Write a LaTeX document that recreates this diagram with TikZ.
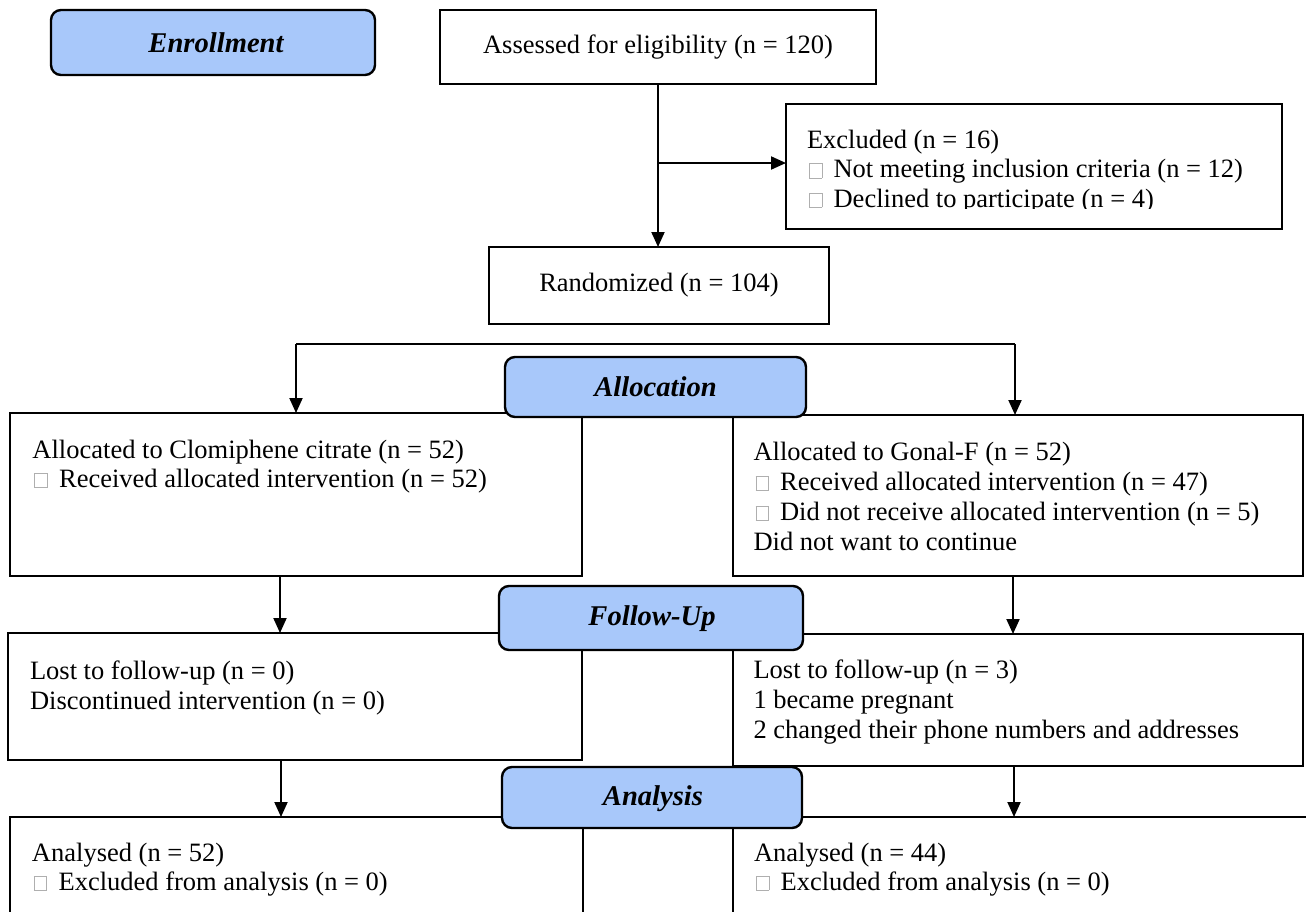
\documentclass[tikz,border=0pt]{standalone}
\usepackage{fontspec}
\setmainfont{Liberation Serif}
\usetikzlibrary{arrows.meta,fit}
\definecolor{headblue}{RGB}{168,200,250}
\definecolor{cbgray}{RGB}{175,175,175}
\newcommand\cbx{\hspace*{1pt}{\color{cbgray}\fboxsep=0pt\fboxrule=0.45pt\fbox{\rule{0pt}{6.8pt}\hspace{5.8pt}}}\hspace{5.6pt}}
\newcommand\txtline[4]{\node[tline] (#1) at (#2,#3) {#4};}
\tikzset{
  plainbox/.style={draw=black, line width=1pt, inner sep=0pt, outer sep=0pt, fill=white},
  headbox/.style={draw=black, line width=1.2pt, fill=headblue, rounded corners=5pt,
    inner sep=0pt, outer sep=0pt},
  headtext/.style={inner sep=0pt, outer sep=0pt, font=\fontsize{14.3}{16}\selectfont\bfseries\itshape},
  boxtext/.style={inner sep=0pt, outer sep=0pt, font=\fontsize{13.25}{15}\selectfont},
  tline/.style={anchor=base west, inner sep=0pt, outer sep=0pt, font=\fontsize{13.25}{15}\selectfont},
  arr/.style={line width=1pt, -{Triangle[length=7.5pt,width=6.5pt]}},
  conn/.style={line width=1pt}
}
\begin{document}
\begin{tikzpicture}[x=0.5pt,y=-0.5pt]
\useasboundingbox (0,0) rectangle (1306,911);
\clip (0,0) rectangle (1306,911);
% plain boxes
\node[plainbox, fit={(440,10) (876,84)}] (assess) {};
\node[boxtext] (assessT) at (assess.center) {Assessed for eligibility (n = 120)};
\node[plainbox, fit={(786,104) (1282,229)}] (excl) {};
\node[plainbox, fit={(489,247) (829,324)}] (rand) {};
\node[boxtext] (randT) at (rand.center) {Randomized (n = 104)};
\node[plainbox, fit={(10,413) (582,576)}] (allocL) {};
\node[plainbox, fit={(733,415) (1303,576)}] (allocR) {};
\node[plainbox, fit={(8,633) (582,760)}] (fuL) {};
\node[plainbox, fit={(733,634) (1303,766)}] (fuR) {};
\node[plainbox, fit={(10,817) (583,940)}] (anL) {};
\node[plainbox, fit={(733,817) (1310,940)}] (anR) {};
% texts
\begin{scope}
\clip (786,104) rectangle (1282,208);
\txtline{ex1}{807}{148}{Excluded (n = 16)}
\txtline{ex2}{807}{177.5}{\cbx Not meeting inclusion criteria (n = 12)}
\txtline{ex3}{807}{207}{\cbx Declined to participate (n = 4)}
\end{scope}
\txtline{al1}{32.5}{458}{Allocated to Clomiphene citrate (n = 52)}
\txtline{al2}{32.5}{487}{\cbx Received allocated intervention (n = 52)}
\txtline{ar1}{753.5}{460}{Allocated to Gonal-F (n = 52)}
\txtline{ar2}{753.5}{490}{\cbx Received allocated intervention (n = 47)}
\txtline{ar3}{753.5}{520}{\cbx Did not receive allocated intervention (n = 5)}
\txtline{ar4}{753.5}{550}{Did not want to continue}
\txtline{fl1}{30}{679}{Lost to follow-up (n = 0)}
\txtline{fl2}{30}{709}{Discontinued intervention (n = 0)}
\txtline{fr1}{753.5}{678}{Lost to follow-up (n = 3)}
\txtline{fr2}{753.5}{708}{1 became pregnant}
\txtline{fr3}{753.5}{738}{2 changed their phone numbers and addresses}
\txtline{nl1}{32}{861}{Analysed (n = 52)}
\txtline{nl2}{32}{890}{\cbx Excluded from analysis (n = 0)}
\txtline{nr1}{754}{861}{Analysed (n = 44)}
\txtline{nr2}{754}{890}{\cbx Excluded from analysis (n = 0)}
% heading boxes
\node[headbox, fit={(51,10) (375,75)}] (enroll) {};
\node[headtext] (enrollT) at ([xshift=1.5pt]enroll.center) {Enrollment};
\node[headbox, fit={(505,357) (806,417)}] (alloc) {};
\node[headtext] (allocT) at (alloc.center) {Allocation};
\node[headbox, fit={(499,586) (803,650)}] (follow) {};
\node[headtext] (followT) at ([xshift=0.5pt,yshift=-0.5pt]follow.center) {Follow-Up};
\node[headbox, fit={(502,767) (802,828)}] (analysis) {};
\node[headtext] (analysisT) at ([xshift=0.5pt,yshift=-0.5pt]analysis.center) {Analysis};
% connectors
\draw[arr] (assess.south) -- (assess.south |- rand.north);
\coordinate (brE) at (658,163);
\draw[arr] (brE) -- (brE -| excl.west);
\coordinate (sL) at (296,344);
\coordinate (sR) at (1015,344);
\draw[conn] (sL) -- (sR);
\draw[arr] (sL) -- (sL |- allocL.north);
\draw[arr] (sR) -- (sR |- allocR.north);
\coordinate (xFL) at (280,600);
\coordinate (xFR) at (1013,600);
\draw[arr] (xFL |- allocL.south) -- (xFL |- fuL.north);
\draw[arr] (xFR |- allocR.south) -- (xFR |- fuR.north);
\coordinate (xAL) at (281,790);
\coordinate (xAR) at (1014,790);
\draw[arr] (xAL |- fuL.south) -- (xAL |- anL.north);
\draw[arr] (xAR |- fuR.south) -- (xAR |- anR.north);
\end{tikzpicture}
\end{document}
